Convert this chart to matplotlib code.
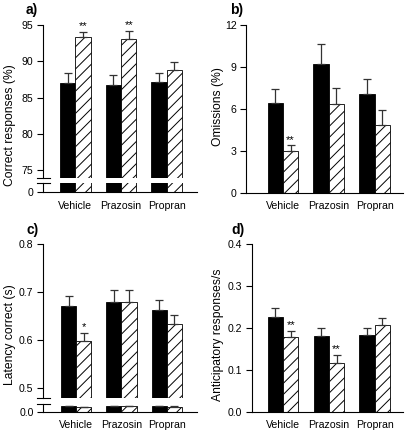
import numpy as np
import matplotlib
matplotlib.use('Agg')
import matplotlib.pyplot as plt

plt.rcParams['font.family'] = ['Liberation Sans', 'DejaVu Sans']
plt.rcParams['hatch.linewidth'] = 0.7

groups = ['Vehicle', 'Prazosin', 'Propran']

# a) correct responses (%)
a_ctrl = [87.0, 86.7, 87.2]
a_ctrl_err = [1.4, 1.4, 1.15]
a_drug = [93.3, 93.05, 88.85]
a_drug_err = [0.7, 1.15, 1.1]
a_stars = ['**', '**', '']

# b) omissions (%)
b_ctrl = [6.42, 9.18, 7.04]
b_ctrl_err = [0.97, 1.48, 1.12]
b_drug = [2.95, 6.37, 4.84]
b_drug_err = [0.43, 1.1, 1.1]
b_stars = ['**', '', '']

# c) latency correct (s)
c_ctrl = [0.670, 0.679, 0.662]
c_ctrl_err = [0.022, 0.026, 0.022]
c_drug = [0.599, 0.679, 0.634]
c_drug_err = [0.016, 0.025, 0.018]
c_stars = ['*', '', '']

# d) anticipatory responses/s
d_ctrl = [0.227, 0.181, 0.183]
d_ctrl_err = [0.021, 0.020, 0.018]
d_drug = [0.178, 0.117, 0.207]
d_drug_err = [0.016, 0.019, 0.018]
d_stars = ['**', '**', '']

W, H = 406, 430
fig = plt.figure(figsize=(W / 100, H / 100), dpi=100)
TICK_FS = 7.6
LAB_FS = 8.7


def px_axes(x0, x1, ytop, ybot):
    return fig.add_axes([x0 / W, 1 - ybot / H, (x1 - x0) / W, (ybot - ytop) / H])


def style(ax):
    for s in ['top', 'right']:
        ax.spines[s].set_visible(False)
    ax.tick_params(axis='y', direction='out', length=4, width=0.8, labelsize=TICK_FS, pad=3)
    ax.tick_params(axis='x', length=0, labelsize=TICK_FS, pad=6)
    ax.spines['left'].set_linewidth(0.8)
    ax.spines['bottom'].set_linewidth(0.8)


def bars(ax, ctrl, cerr, drug, derr, stars=None, star_off=0):
    x = np.arange(len(groups))
    w = 0.335
    ax.bar(x - w / 2, ctrl, w, color='black', edgecolor='black', linewidth=0.6)
    ax.bar(x + w / 2, drug, w, color='white', edgecolor='black', hatch='///', linewidth=0.6)
    z = np.zeros(len(groups))
    ax.errorbar(x - w / 2, ctrl, yerr=[z, cerr], fmt='none', ecolor='#333333',
                elinewidth=0.9, capsize=2.8, capthick=0.9)
    ax.errorbar(x + w / 2, drug, yerr=[z, derr], fmt='none', ecolor='#333333',
                elinewidth=0.9, capsize=2.8, capthick=0.9)
    if stars is not None:
        for i, s in enumerate(stars):
            if s:
                ax.text(x[i] + w / 2, drug[i] + derr[i] + star_off, s, ha='center',
                        va='bottom', fontsize=8)
    return x


def broken(x0, x1, ytop, ybreak1, ybreak2, ybot, lo, hi, ticks, zero_lab,
           ctrl, cerr, drug, derr, stars, star_off, xlim):
    top = px_axes(x0, x1, ytop, ybreak1)
    bot = px_axes(x0, x1, ybreak2, ybot)
    for ax in (top, bot):
        style(ax)
        bars(ax, ctrl, cerr, drug, derr, stars if ax is top else None, star_off)
        ax.set_xlim(*xlim)
    top.set_ylim(lo, hi)
    top.set_yticks(ticks)
    top.spines['bottom'].set_visible(False)
    top.set_xticks([])
    bot.set_ylim(0, 1)
    bot.set_yticks([0])
    bot.set_yticklabels([zero_lab])
    bot.set_xticks(np.arange(len(groups)))
    bot.set_xticklabels(groups)
    # break marks
    for yb in (ybreak1, ybreak2):
        fig.add_artist(plt.Line2D([(x0 - 6) / W, (x0 + 7) / W], [1 - yb / H, 1 - yb / H],
                                  color='black', lw=0.8))
    return top, bot


# panel a
broken(43.3, 196.7, 25, 178.3, 183.3, 192.3, 73.9, 95, [75, 80, 85, 90, 95], '0',
       a_ctrl, a_ctrl_err, a_drug, a_drug_err, a_stars, 0.15, (-0.70, 2.655))
fig.text(10 / W, 1 - 125 / H, 'Correct responses (%)', rotation=90, ha='center',
         va='center', fontsize=LAB_FS)

# panel b
axb = px_axes(246.3, 403, 25, 192.7)
style(axb)
bars(axb, b_ctrl, b_ctrl_err, b_drug, b_drug_err, b_stars, 0.05)
axb.set_ylim(0, 12)
axb.set_yticks([0, 3, 6, 9, 12])
axb.set_xlim(-0.80, 2.62)
axb.set_xticks(np.arange(3))
axb.set_xticklabels(groups)
fig.text(218 / W, 1 - 107 / H, 'Omissions (%)', rotation=90, ha='center',
         va='center', fontsize=LAB_FS)

# panel c
broken(43.3, 196.7, 244, 397.7, 403.7, 411.7, 0.48, 0.8, [0.5, 0.6, 0.7, 0.8], '0.0',
       c_ctrl, c_ctrl_err, c_drug, c_drug_err, c_stars, 0.001, (-0.725, 2.66))
fig.text(10 / W, 1 - 335 / H, 'Latency correct (s)', rotation=90, ha='center',
         va='center', fontsize=LAB_FS)
for a in fig.axes[-2:]:
    a.yaxis.set_major_formatter(matplotlib.ticker.FormatStrFormatter('%.1f'))
fig.axes[-1].set_yticklabels(['0.0'])

# panel d
axd = px_axes(252, 403, 244, 412)
style(axd)
bars(axd, d_ctrl, d_ctrl_err, d_drug, d_drug_err, d_stars, 0.001)
axd.set_ylim(0, 0.4)
axd.set_yticks([0.0, 0.1, 0.2, 0.3, 0.4])
axd.yaxis.set_major_formatter(matplotlib.ticker.FormatStrFormatter('%.1f'))
axd.set_xlim(-0.68, 2.62)
axd.set_xticks(np.arange(3))
axd.set_xticklabels(groups)
fig.text(218 / W, 1 - 335 / H, 'Anticipatory responses/s', rotation=90, ha='center',
         va='center', fontsize=LAB_FS)

# panel letters
for lab, xx, yy in [('a)', 26, 10), ('b)', 230, 10), ('c)', 27, 230), ('d)', 231, 230)]:
    fig.text(xx / W, 1 - yy / H, lab, fontsize=10, fontweight='bold', ha='left', va='center')

fig.savefig('out.png', dpi=100)
